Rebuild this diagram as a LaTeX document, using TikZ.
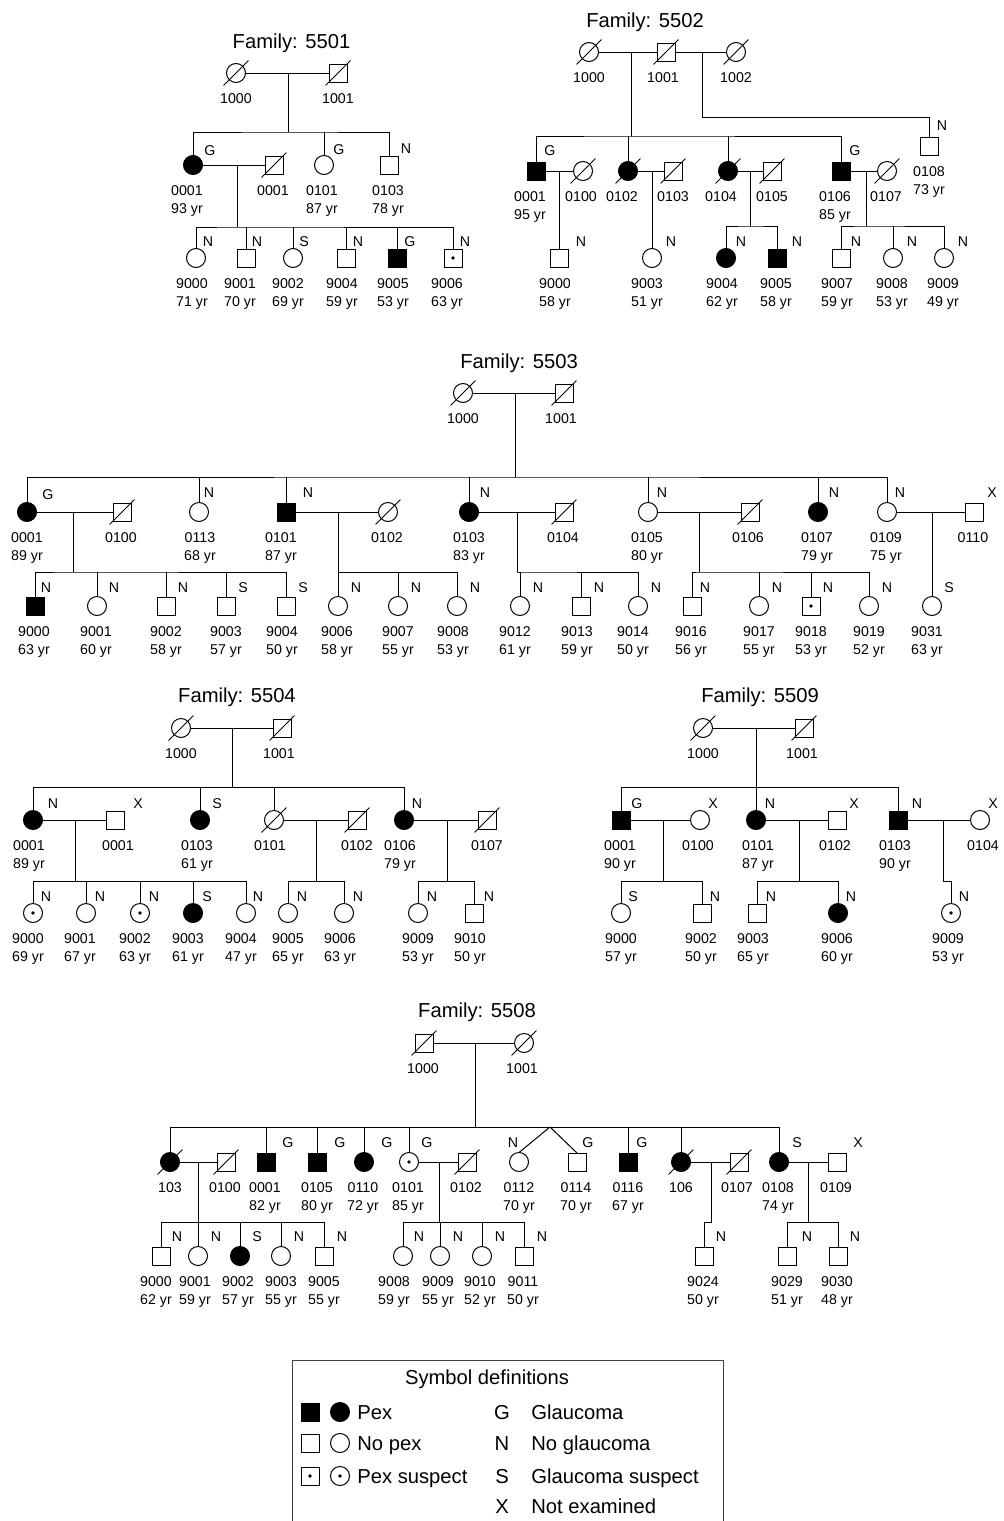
\documentclass[tikz,border=0pt]{standalone}
\usepackage{fontspec}
\setmainfont{Liberation Sans}
\newcommand\Pers[9]{%
  \node[#2] (#1) at (#3,#4) {};%
  \if\relax\detokenize{#5}\relax\else\node[ltr] (#1-g) at (#6,#7) {#5};\fi
  \node[lbl] (#1-id) at (#8,#4+30.5) {#9};%
  \PersAge{#1}{#8}{#4}}
\newcommand\PersAge[4]{\if\relax\detokenize{#4}\relax\else\node[lbl] (#1-age) at (#2,#3+48.5) {#4};\fi}
\newcommand\Sib[4]{\draw[pl] (#1) -- (#2); \draw[pl] (#3.north) |- (#2) -| (#4.north);}
\newcommand\Kid[2]{\draw[pl] (#2.north) -- (#2.north |- #1);}
\tikzset{
  pl/.style={line width=0.5pt},
  sym/.style={draw, line width=0.5pt, inner sep=0pt, outer sep=0pt, fill=white},
  sq/.style={sym, rectangle, minimum size=9pt},
  ci/.style={sym, circle, minimum size=9.5pt},
  filled/.style={fill=black},
  dead/.style={append after command={([shift={(-6.2pt,-6.2pt)}]\tikzlastnode.center) edge[line width=0.5pt] ([shift={(6.2pt,6.2pt)}]\tikzlastnode.center)}},
  susp/.style={path picture={\fill[black] (path picture bounding box.center) circle (0.9pt);}},
  sqd/.style={sq,dead}, sqf/.style={sq,filled}, sqfd/.style={sq,filled,dead}, sqs/.style={sq,susp},
  cid/.style={ci,dead}, cif/.style={ci,filled}, cifd/.style={ci,filled,dead}, cis/.style={ci,susp},
  lbl/.style={font=\fontsize{7.1}{8}\selectfont, anchor=base, inner sep=0pt},
  ltr/.style={font=\fontsize{7.1}{8}\selectfont, anchor=center, inner sep=0pt},
  ttl/.style={font=\fontsize{10.1}{12}\selectfont, anchor=base, inner sep=0pt},
  leg/.style={font=\fontsize{10.1}{12}\selectfont, anchor=base west, inner sep=0pt},
}
\begin{document}
\begin{tikzpicture}[x=0.5pt,y=-0.5pt]
\useasboundingbox (0,0) rectangle (1003,1521);
% ---------------- Family 5501
\node[ttl] (At) at (291.5,48) {Family: 5501};
\Pers{A1000}{cid}{236}{73}{}{0}{0}{236}{1000}{}
\Pers{A1001}{sqd}{338}{73}{}{0}{0}{338}{1001}{}
\coordinate (Aj1) at (288,73); \coordinate (As1) at (288,132);
\Pers{A0001}{cif}{193}{165}{G}{210}{151}{187}{0001}{93 yr}
\Pers{A0001s}{sqd}{274}{165}{}{0}{0}{273}{0001}{}
\Pers{A0101}{ci}{324}{165}{G}{339}{150}{322}{0101}{87 yr}
\Pers{A0103}{sq}{389}{165}{N}{406}{149}{388}{0103}{78 yr}
\coordinate (Aj2) at (237,165); \coordinate (As2) at (237,227);
\Pers{A9000}{ci}{196}{258}{N}{208}{242}{192}{9000}{71 yr}
\Pers{A9001}{sq}{246}{258}{N}{257}{242}{240}{9001}{70 yr}
\Pers{A9002}{ci}{293}{258}{S}{304}{242}{288}{9002}{69 yr}
\Pers{A9004}{sq}{346}{258}{N}{358}{242}{342}{9004}{59 yr}
\Pers{A9005}{sqf}{397}{258}{G}{410}{242}{393}{9005}{53 yr}
\Pers{A9006}{sqs}{453}{258}{N}{465}{242}{447}{9006}{63 yr}
\draw[pl] (A1000) -- (A1001);
\Sib{Aj1}{As1}{A0001}{A0103} \Kid{As1}{A0101}
\draw[pl] (A0001) -- (A0001s);
\Sib{Aj2}{As2}{A9000}{A9006} \Kid{As2}{A9001} \Kid{As2}{A9002} \Kid{As2}{A9004} \Kid{As2}{A9005}
% ---------------- Family 5502
\node[ttl] (Bt) at (645,27) {Family: 5502};
\Pers{B1000}{cid}{589}{52}{}{0}{0}{589}{1000}{}
\Pers{B1001}{sqd}{666}{52}{}{0}{0}{663}{1001}{}
\Pers{B1002}{cid}{736}{52}{}{0}{0}{736}{1002}{}
\coordinate (Bj1) at (631,52); \coordinate (Bs1) at (631,136);
\coordinate (Bj2) at (702,52); \coordinate (Bs2) at (702,117);
\Pers{B0108}{sq}{929}{146}{N}{942}{126}{929}{0108}{73 yr}
\Pers{B0001}{sqf}{536}{171}{G}{550}{151}{530}{0001}{95 yr}
\Pers{B0100}{cid}{583}{171}{}{0}{0}{581}{0100}{}
\Pers{B0102}{cifd}{628}{171}{}{0}{0}{622}{0102}{}
\Pers{B0103}{sqd}{673}{171}{}{0}{0}{673}{0103}{}
\Pers{B0104}{cifd}{728}{171}{}{0}{0}{721}{0104}{}
\Pers{B0105}{sqd}{772}{171}{}{0}{0}{772}{0105}{}
\Pers{B0106}{sqf}{841}{171}{G}{855}{151}{835}{0106}{85 yr}
\Pers{B0107}{cid}{887}{171}{}{0}{0}{886}{0107}{}
\coordinate (Bj3) at (559,171); \coordinate (Bj4) at (652,171);
\coordinate (Bj5) at (750,171); \coordinate (Bs5) at (750,226);
\coordinate (Bj6) at (866,171); \coordinate (Bs6) at (866,226);
\Pers{B9000}{sq}{559}{258}{N}{581}{242}{555}{9000}{58 yr}
\Pers{B9003}{ci}{652}{258}{N}{671}{242}{647}{9003}{51 yr}
\Pers{B9004}{cif}{726}{258}{N}{741}{242}{722}{9004}{62 yr}
\Pers{B9005}{sqf}{777}{258}{N}{797}{242}{776}{9005}{58 yr}
\Pers{B9007}{sq}{841}{258}{N}{856}{242}{837}{9007}{59 yr}
\Pers{B9008}{ci}{893}{258}{N}{912}{242}{892}{9008}{53 yr}
\Pers{B9009}{ci}{944}{258}{N}{963}{242}{943}{9009}{49 yr}
\draw[pl] (B1000) -- (B1001); \draw[pl] (B1001) -- (B1002);
\Sib{Bj1}{Bs1}{B0001}{B0106} \Kid{Bs1}{B0102} \Kid{Bs1}{B0104}
\draw[pl] (Bj2) -- (Bs2) -| (B0108.north);
\draw[pl] (B0001) -- (B0100); \draw[pl] (Bj3) -- (B9000.north);
\draw[pl] (B0102) -- (B0103); \draw[pl] (Bj4) -- (B9003.north);
\draw[pl] (B0104) -- (B0105); \Sib{Bj5}{Bs5}{B9004}{B9005}
\draw[pl] (B0106) -- (B0107); \Sib{Bj6}{Bs6}{B9007}{B9009} \Kid{Bs6}{B9008}
% ---------------- Family 5503
\node[ttl] (Ct) at (519,368) {Family: 5503};
\Pers{C1000}{cid}{463}{393}{}{0}{0}{463}{1000}{}
\Pers{C1001}{sqd}{564}{393}{}{0}{0}{561}{1001}{}
\coordinate (Cj1) at (515,393); \coordinate (Cs1) at (515,477);
\Pers{C0001}{cif}{27}{512}{G}{48}{495}{27}{0001}{89 yr}
\Pers{C0100}{sqd}{122}{512}{}{0}{0}{121}{0100}{}
\Pers{C0113}{ci}{199}{512}{N}{209}{493}{200}{0113}{68 yr}
\Pers{C0101}{sqf}{286}{512}{N}{308}{493}{281}{0101}{87 yr}
\Pers{C0102}{cid}{388}{512}{}{0}{0}{387}{0102}{}
\Pers{C0103}{cif}{469}{512}{N}{485}{493}{469}{0103}{83 yr}
\Pers{C0104}{sqd}{564}{512}{}{0}{0}{563}{0104}{}
\Pers{C0105}{ci}{648}{512}{N}{662}{493}{647}{0105}{80 yr}
\Pers{C0106}{sqd}{750}{512}{}{0}{0}{748}{0106}{}
\Pers{C0107}{cif}{818}{512}{N}{834}{493}{817}{0107}{79 yr}
\Pers{C0109}{ci}{887}{512}{N}{900}{493}{886}{0109}{75 yr}
\Pers{C0110}{sq}{974}{512}{X}{992}{493}{973}{0110}{}
\coordinate (Cj2) at (73,512); \coordinate (Cs2) at (73,572);
\coordinate (Cj3) at (338,512); \coordinate (Cs3) at (338,572);
\coordinate (Cj4) at (517,512); \coordinate (Cs4) at (517,572);
\coordinate (Cj5) at (699,512); \coordinate (Cs5) at (699,572);
\coordinate (Cj6) at (932,512);
\Pers{C9000}{sqf}{35}{606}{N}{46}{588}{34}{9000}{63 yr}
\Pers{C9001}{ci}{97}{606}{N}{114}{588}{96}{9001}{60 yr}
\Pers{C9002}{sq}{166}{606}{N}{183}{588}{166}{9002}{58 yr}
\Pers{C9003}{sq}{226}{606}{S}{243}{588}{226}{9003}{57 yr}
\Pers{C9004}{sq}{286}{606}{S}{303}{588}{282}{9004}{50 yr}
\Pers{C9006}{ci}{338}{606}{N}{356}{588}{337}{9006}{58 yr}
\Pers{C9007}{ci}{398}{606}{N}{416}{588}{398}{9007}{55 yr}
\Pers{C9008}{ci}{457}{606}{N}{475}{588}{453}{9008}{53 yr}
\Pers{C9012}{ci}{520}{606}{N}{538}{588}{515}{9012}{61 yr}
\Pers{C9013}{sq}{581}{606}{N}{599}{588}{577}{9013}{59 yr}
\Pers{C9014}{ci}{638}{606}{N}{656}{588}{633}{9014}{50 yr}
\Pers{C9016}{sq}{692}{606}{N}{705}{588}{691}{9016}{56 yr}
\Pers{C9017}{ci}{759}{606}{N}{777}{588}{759}{9017}{55 yr}
\Pers{C9018}{sqs}{811}{606}{N}{828}{588}{811}{9018}{53 yr}
\Pers{C9019}{ci}{869}{606}{N}{887}{588}{869}{9019}{52 yr}
\Pers{C9031}{ci}{932}{606}{S}{949}{588}{927}{9031}{63 yr}
\draw[pl] (C1000) -- (C1001);
\Sib{Cj1}{Cs1}{C0001}{C0109} \Kid{Cs1}{C0113} \Kid{Cs1}{C0101} \Kid{Cs1}{C0103} \Kid{Cs1}{C0105} \Kid{Cs1}{C0107}
\draw[pl] (C0001) -- (C0100); \Sib{Cj2}{Cs2}{C9000}{C9004} \Kid{Cs2}{C9001} \Kid{Cs2}{C9002} \Kid{Cs2}{C9003}
\draw[pl] (C0101) -- (C0102); \Sib{Cj3}{Cs3}{C9006}{C9008} \Kid{Cs3}{C9007}
\draw[pl] (C0103) -- (C0104); \Sib{Cj4}{Cs4}{C9012}{C9014} \Kid{Cs4}{C9013}
\draw[pl] (C0105) -- (C0106); \Sib{Cj5}{Cs5}{C9016}{C9019} \Kid{Cs5}{C9017} \Kid{Cs5}{C9018}
\draw[pl] (C0109) -- (C0110); \draw[pl] (Cj6) -- (C9031.north);
% ---------------- Family 5504
\node[ttl] (Dt) at (237,702) {Family: 5504};
\Pers{D1000}{cid}{181}{728}{}{0}{0}{181}{1000}{}
\Pers{D1001}{sqd}{282}{728}{}{0}{0}{279}{1001}{}
\coordinate (Dj1) at (232,728); \coordinate (Ds1) at (232,787);
\Pers{D0001}{cif}{33}{820}{N}{53}{804}{29}{0001}{89 yr}
\Pers{D0001s}{sq}{115}{820}{X}{138}{804}{118}{0001}{}
\Pers{D0103}{cif}{200}{820}{S}{217}{804}{197}{0103}{61 yr}
\Pers{D0101}{cid}{274}{820}{}{0}{0}{270}{0101}{}
\Pers{D0102}{sqd}{357}{820}{}{0}{0}{357}{0102}{}
\Pers{D0106}{cif}{404}{820}{N}{417}{804}{400}{0106}{79 yr}
\Pers{D0107}{sqd}{487}{820}{}{0}{0}{487}{0107}{}
\coordinate (Dj2) at (75,820); \coordinate (Ds2) at (75,881);
\coordinate (Dj3) at (316,820); \coordinate (Ds3) at (316,881);
\coordinate (Dj4) at (447,820); \coordinate (Ds4) at (447,881);
\Pers{D9000}{cis}{33}{913}{N}{46}{897}{28}{9000}{69 yr}
\Pers{D9001}{ci}{86}{913}{N}{100}{897}{80}{9001}{67 yr}
\Pers{D9002}{cis}{140}{913}{N}{154}{897}{135}{9002}{63 yr}
\Pers{D9003}{cif}{193}{913}{S}{207}{897}{188}{9003}{61 yr}
\Pers{D9004}{ci}{246}{913}{N}{258}{897}{241}{9004}{47 yr}
\Pers{D9005}{ci}{288}{913}{N}{302}{897}{288}{9005}{65 yr}
\Pers{D9006}{ci}{344}{913}{N}{358}{897}{340}{9006}{63 yr}
\Pers{D9009}{ci}{418}{913}{N}{432}{897}{418}{9009}{53 yr}
\Pers{D9010}{sq}{474}{913}{N}{489}{897}{470}{9010}{50 yr}
\draw[pl] (D1000) -- (D1001);
\Sib{Dj1}{Ds1}{D0001}{D0106} \Kid{Ds1}{D0103} \Kid{Ds1}{D0101}
\draw[pl] (D0001) -- (D0001s); \Sib{Dj2}{Ds2}{D9000}{D9004} \Kid{Ds2}{D9001} \Kid{Ds2}{D9002} \Kid{Ds2}{D9003}
\draw[pl] (D0101) -- (D0102); \Sib{Dj3}{Ds3}{D9005}{D9006}
\draw[pl] (D0106) -- (D0107); \Sib{Dj4}{Ds4}{D9009}{D9010}
% ---------------- Family 5509
\node[ttl] (Et) at (760,702) {Family: 5509};
\Pers{E1000}{cid}{703}{728}{}{0}{0}{703}{1000}{}
\Pers{E1001}{sqd}{804}{728}{}{0}{0}{802}{1001}{}
\coordinate (Ej1) at (756,728); \coordinate (Es1) at (756,787);
\Pers{E0001}{sqf}{621}{820}{G}{637}{804}{620}{0001}{90 yr}
\Pers{E0100}{ci}{700}{820}{X}{713}{804}{698}{0100}{}
\Pers{E0101}{cif}{756}{820}{N}{770}{804}{758}{0101}{87 yr}
\Pers{E0102}{sq}{837}{820}{X}{854}{804}{835}{0102}{}
\Pers{E0103}{sqf}{898}{820}{N}{917}{804}{895}{0103}{90 yr}
\Pers{E0104}{ci}{980}{820}{X}{993}{804}{983}{0104}{}
\coordinate (Ej2) at (663,820); \coordinate (Es2) at (663,881);
\coordinate (Ej3) at (799,820); \coordinate (Es3) at (799,881);
\coordinate (Ej4) at (943,820); \coordinate (Es4) at (943,881);
\Pers{E9000}{ci}{621}{913}{S}{633}{897}{621}{9000}{57 yr}
\Pers{E9002}{sq}{702}{913}{N}{715}{897}{701}{9002}{50 yr}
\Pers{E9003}{sq}{757}{913}{N}{771}{897}{753}{9003}{65 yr}
\Pers{E9006}{cif}{838}{913}{N}{851}{897}{837}{9006}{60 yr}
\Pers{E9009}{cis}{951}{913}{N}{964}{897}{948}{9009}{53 yr}
\draw[pl] (E1000) -- (E1001);
\Sib{Ej1}{Es1}{E0001}{E0103} \Kid{Es1}{E0101}
\draw[pl] (E0001) -- (E0100); \Sib{Ej2}{Es2}{E9000}{E9002}
\draw[pl] (E0101) -- (E0102); \Sib{Ej3}{Es3}{E9003}{E9006}
\draw[pl] (E0103) -- (E0104); \draw[pl] (Ej4) -- (Es4) -| (E9009.north);
% ---------------- Family 5508
\node[ttl] (Ft) at (477,1017) {Family: 5508};
\Pers{F1000}{sqd}{424}{1043}{}{0}{0}{423}{1000}{}
\Pers{F1001}{cid}{524}{1043}{}{0}{0}{522}{1001}{}
\coordinate (Fj1) at (475,1043); \coordinate (Fs1) at (475,1127);
\Pers{F103}{cifd}{170}{1162}{}{0}{0}{170}{103}{}
\Pers{F0100}{sqd}{226}{1162}{}{0}{0}{225}{0100}{}
\Pers{F0001}{sqf}{266}{1162}{G}{288}{1143}{265}{0001}{82 yr}
\Pers{F0105}{sqf}{317}{1162}{G}{340}{1143}{317}{0105}{80 yr}
\Pers{F0110}{cif}{364}{1162}{G}{387}{1143}{363}{0110}{72 yr}
\Pers{F0101}{cis}{409}{1162}{G}{427}{1143}{408}{0101}{85 yr}
\Pers{F0102}{sqd}{467}{1162}{}{0}{0}{466}{0102}{}
\Pers{F0112}{ci}{519}{1162}{N}{513}{1143}{519}{0112}{70 yr}
\Pers{F0114}{sq}{577}{1162}{G}{588}{1143}{576}{0114}{70 yr}
\Pers{F0116}{sqf}{628}{1162}{G}{642}{1143}{628}{0116}{67 yr}
\Pers{F106}{cifd}{681}{1162}{}{0}{0}{681}{106}{}
\Pers{F0107}{sqd}{739}{1162}{}{0}{0}{737}{0107}{}
\Pers{F0108}{cif}{779}{1162}{S}{797}{1143}{778}{0108}{74 yr}
\Pers{F0109}{sq}{837}{1162}{X}{858}{1143}{836}{0109}{}
\coordinate (Fap) at (550,1127);
\coordinate (Fj2) at (198,1162); \coordinate (Fs2) at (198,1222);
\coordinate (Fj3) at (439,1162); \coordinate (Fs3) at (439,1222);
\coordinate (Fj4) at (711,1162); \coordinate (Fs4) at (711,1222);
\coordinate (Fj5) at (808,1162); \coordinate (Fs5) at (808,1222);
\Pers{F9000}{sq}{161}{1256}{N}{177}{1237}{156}{9000}{62 yr}
\Pers{F9001}{ci}{198}{1256}{N}{216}{1237}{195}{9001}{59 yr}
\Pers{F9002}{cif}{240}{1256}{S}{257}{1237}{238}{9002}{57 yr}
\Pers{F9003}{ci}{281}{1256}{N}{299}{1237}{281}{9003}{55 yr}
\Pers{F9005}{sq}{324}{1256}{N}{342}{1237}{324}{9005}{55 yr}
\Pers{F9008}{ci}{403}{1256}{N}{419}{1237}{394}{9008}{59 yr}
\Pers{F9009}{ci}{440}{1256}{N}{458}{1237}{438}{9009}{55 yr}
\Pers{F9010}{ci}{482}{1256}{N}{500}{1237}{480}{9010}{52 yr}
\Pers{F9011}{sq}{524}{1256}{N}{542}{1237}{523}{9011}{50 yr}
\Pers{F9024}{sq}{704}{1256}{N}{721}{1237}{703}{9024}{50 yr}
\Pers{F9029}{sq}{787}{1256}{N}{807}{1237}{787}{9029}{51 yr}
\Pers{F9030}{sq}{838}{1256}{N}{855}{1237}{837}{9030}{48 yr}
\draw[pl] (F1000) -- (F1001);
\Sib{Fj1}{Fs1}{F103}{F0108} \Kid{Fs1}{F0001} \Kid{Fs1}{F0105} \Kid{Fs1}{F0110} \Kid{Fs1}{F0101} \Kid{Fs1}{F0116} \Kid{Fs1}{F106}
\draw[pl] (Fap) -- (F0112.north); \draw[pl] (Fap) -- (F0114.north);
\draw[pl] (F103) -- (F0100); \Sib{Fj2}{Fs2}{F9000}{F9005} \Kid{Fs2}{F9001} \Kid{Fs2}{F9002} \Kid{Fs2}{F9003}
\draw[pl] (F0101) -- (F0102); \Sib{Fj3}{Fs3}{F9008}{F9011} \Kid{Fs3}{F9009} \Kid{Fs3}{F9010}
\draw[pl] (F106) -- (F0107); \draw[pl] (Fj4) -- (Fs4) -| (F9024.north);
\draw[pl] (F0108) -- (F0109); \Sib{Fj5}{Fs5}{F9029}{F9030}
% ---------------- Legend
\coordinate (Gb1) at (292,1521); \coordinate (Gb2) at (723,1360); \coordinate (Gb3) at (723,1521);
\draw[line width=0.5pt, black!75] (Gb1) |- (Gb2) -- (Gb3);
\node[ttl] (Gt) at (487,1384) {Symbol definitions};
\node[sqf] (Gs1) at (310,1412) {}; \node[cif] (Gc1) at (340,1412) {};
\node[leg] (Gp1) at (357,1419) {Pex};
\node[sq] (Gs2) at (310,1443) {}; \node[ci] (Gc2) at (340,1443) {};
\node[leg] (Gp2) at (357,1450) {No pex};
\node[sqs] (Gs3) at (310,1476) {}; \node[cis] (Gc3) at (340,1476) {};
\node[leg] (Gp3) at (357,1483) {Pex suspect};
\node[ttl] (GlG) at (502,1419) {G}; \node[leg] (GdG) at (531,1419) {Glaucoma};
\node[ttl] (GlN) at (502,1450) {N}; \node[leg] (GdN) at (531,1450) {No glaucoma};
\node[ttl] (GlS) at (502,1483) {S}; \node[leg] (GdS) at (531,1483) {Glaucoma suspect};
\node[ttl] (GlX) at (502,1513) {X}; \node[leg] (GdX) at (531,1513) {Not examined};
\end{tikzpicture}
\end{document}
